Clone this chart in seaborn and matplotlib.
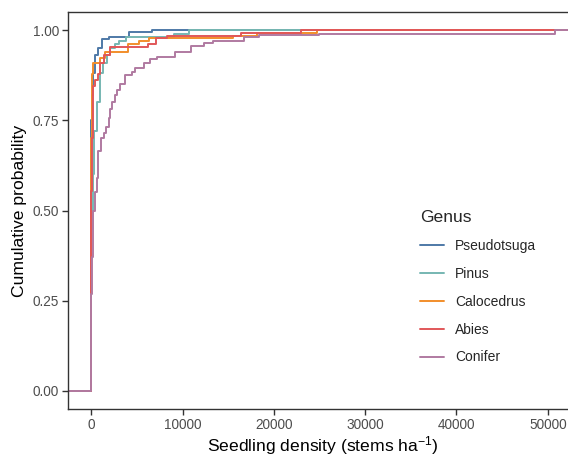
import numpy as np
import pandas as pd
import matplotlib
matplotlib.use("Agg")
import matplotlib.pyplot as plt
import seaborn as sns

# --- data: seedling density values and how many plots share each ---
genera = ["Pseudotsuga", "Pinus", "Calocedrus", "Abies", "Conifer"]
colors = ["#4E79A7", "#76B7B2", "#F28E2B", "#E15759", "#B07AA1"]

pseudotsuga_density = [0, 100, 250, 400, 450, 800, 1150, 1900, 4100, 6700]
pseudotsuga_count = [120, 11, 10, 6, 2, 3, 4, 1, 2, 1]

pinus_density = [0, 150, 300, 600, 1000, 1300, 1750, 2100, 2600, 3000, 3800, 9100, 10700]
pinus_count = [45, 15, 12, 8, 8, 3, 2, 2, 1, 1, 1, 1, 1]

calocedrus_density = [0, 50, 100, 250, 990, 1540, 4060, 5260, 6360, 15570, 18200, 24780]
calocedrus_count = [91, 13, 10, 4, 2, 2, 3, 1, 1, 1, 1, 1]

abies_density = [0, 100, 160, 200, 440, 730, 990, 1350, 2080, 6250, 7130, 8330, 16450, 23030]
abies_count = [72, 19, 13, 6, 2, 2, 4, 3, 3, 1, 2, 1, 1, 1]

conifer_density = [0, 60, 250, 440, 625, 800, 1100, 1350, 1650, 1900, 2080, 2270, 2630,
                   2850, 3180, 3650, 4460, 4820, 5730, 6470, 7200, 9210, 10930, 12390,
                   13300, 16780, 18420, 25000, 50770]
conifer_count = [54, 20, 26, 10, 8, 15, 7, 3, 3, 5, 5, 4, 4, 3, 3, 5, 2, 2, 3, 2, 1, 3, 3,
                 2, 1, 2, 1, 1, 2]

x_ticks = [0, 10000, 20000, 30000, 40000, 50000]
y_ticks = [0, 0.25, 0.5, 0.75, 1.0]

samples = {
    "Pseudotsuga": np.repeat(pseudotsuga_density, pseudotsuga_count),
    "Pinus": np.repeat(pinus_density, pinus_count),
    "Calocedrus": np.repeat(calocedrus_density, calocedrus_count),
    "Abies": np.repeat(abies_density, abies_count),
    "Conifer": np.repeat(conifer_density, conifer_count),
}

# ggplot-like limits: data range plus 5% each side
all_vals = np.concatenate(list(samples.values()))
span = all_vals.max() - all_vals.min()
xlim = (all_vals.min() - 0.05 * span, all_vals.max() + 0.05 * span)

# --- ECDF table, padded out to -Inf / Inf like stat_ecdf ---
rows = []
for g in genera:
    v = np.sort(samples[g])
    ux, cnt = np.unique(v, return_counts=True)
    cum = np.cumsum(cnt) / len(v)
    xs = np.r_[-1e6, ux, 1e6]
    ys = np.r_[0, cum, 1.0]
    rows.append(pd.DataFrame({"density": xs, "ecdf": ys, "Genus": g}))
df = pd.concat(rows, ignore_index=True)

sns.set_style("white")
plt.rcParams["font.family"] = ["Liberation Sans", "DejaVu Sans"]
plt.rcParams["mathtext.fontset"] = "custom"
plt.rcParams["mathtext.rm"] = "Liberation Sans"
plt.rcParams["mathtext.default"] = "regular"

W, H = 568, 457
fig = plt.figure(figsize=(W / 100, H / 100), dpi=100)
ax = fig.add_axes([68 / W, (H - 409) / H, (578 - 68) / W, (409 - 12) / H])

sns.lineplot(data=df, x="density", y="ecdf", hue="Genus", hue_order=genera,
             palette=dict(zip(genera, colors)), estimator=None, sort=False,
             drawstyle="steps-post", lw=1.4, ax=ax)

ax.set_xlim(xlim)
ax.set_ylim(-0.05, 1.05)
ax.set_xticks(x_ticks)
ax.set_xticklabels([str(t) for t in x_ticks])
ax.set_yticks(y_ticks)
ax.set_yticklabels([f"{t:.2f}" for t in y_ticks])
ax.tick_params(axis="both", length=4, width=1, color="#333333",
               labelcolor="#4D4D4D", labelsize=9.8, pad=2.5)
ax.tick_params(left=True, bottom=True)
for s in ["left", "bottom", "top"]:
    ax.spines[s].set_color("#333333")
    ax.spines[s].set_linewidth(1)
ax.spines["right"].set_visible(False)

ax.set_xlabel("Seedling density (stems ha$^{-1}$)", fontsize=12.6, color="black", labelpad=1.5)
ax.set_ylabel("Cumulative probability", fontsize=12.6, color="black", labelpad=4)

handles, labels = ax.get_legend_handles_labels()
leg = ax.legend(handles, labels, title="Genus", loc="upper left",
                bbox_to_anchor=(413 / W, 1 - 203 / H), bbox_transform=fig.transFigure,
                frameon=False, fontsize=10, title_fontsize=12.6, borderpad=0,
                handlelength=1.75, handletextpad=0.8, labelspacing=1.0,
                alignment="left")
for h in leg.get_lines():
    h.set_linewidth(1.4)

fig.savefig("out.png", dpi=100)
